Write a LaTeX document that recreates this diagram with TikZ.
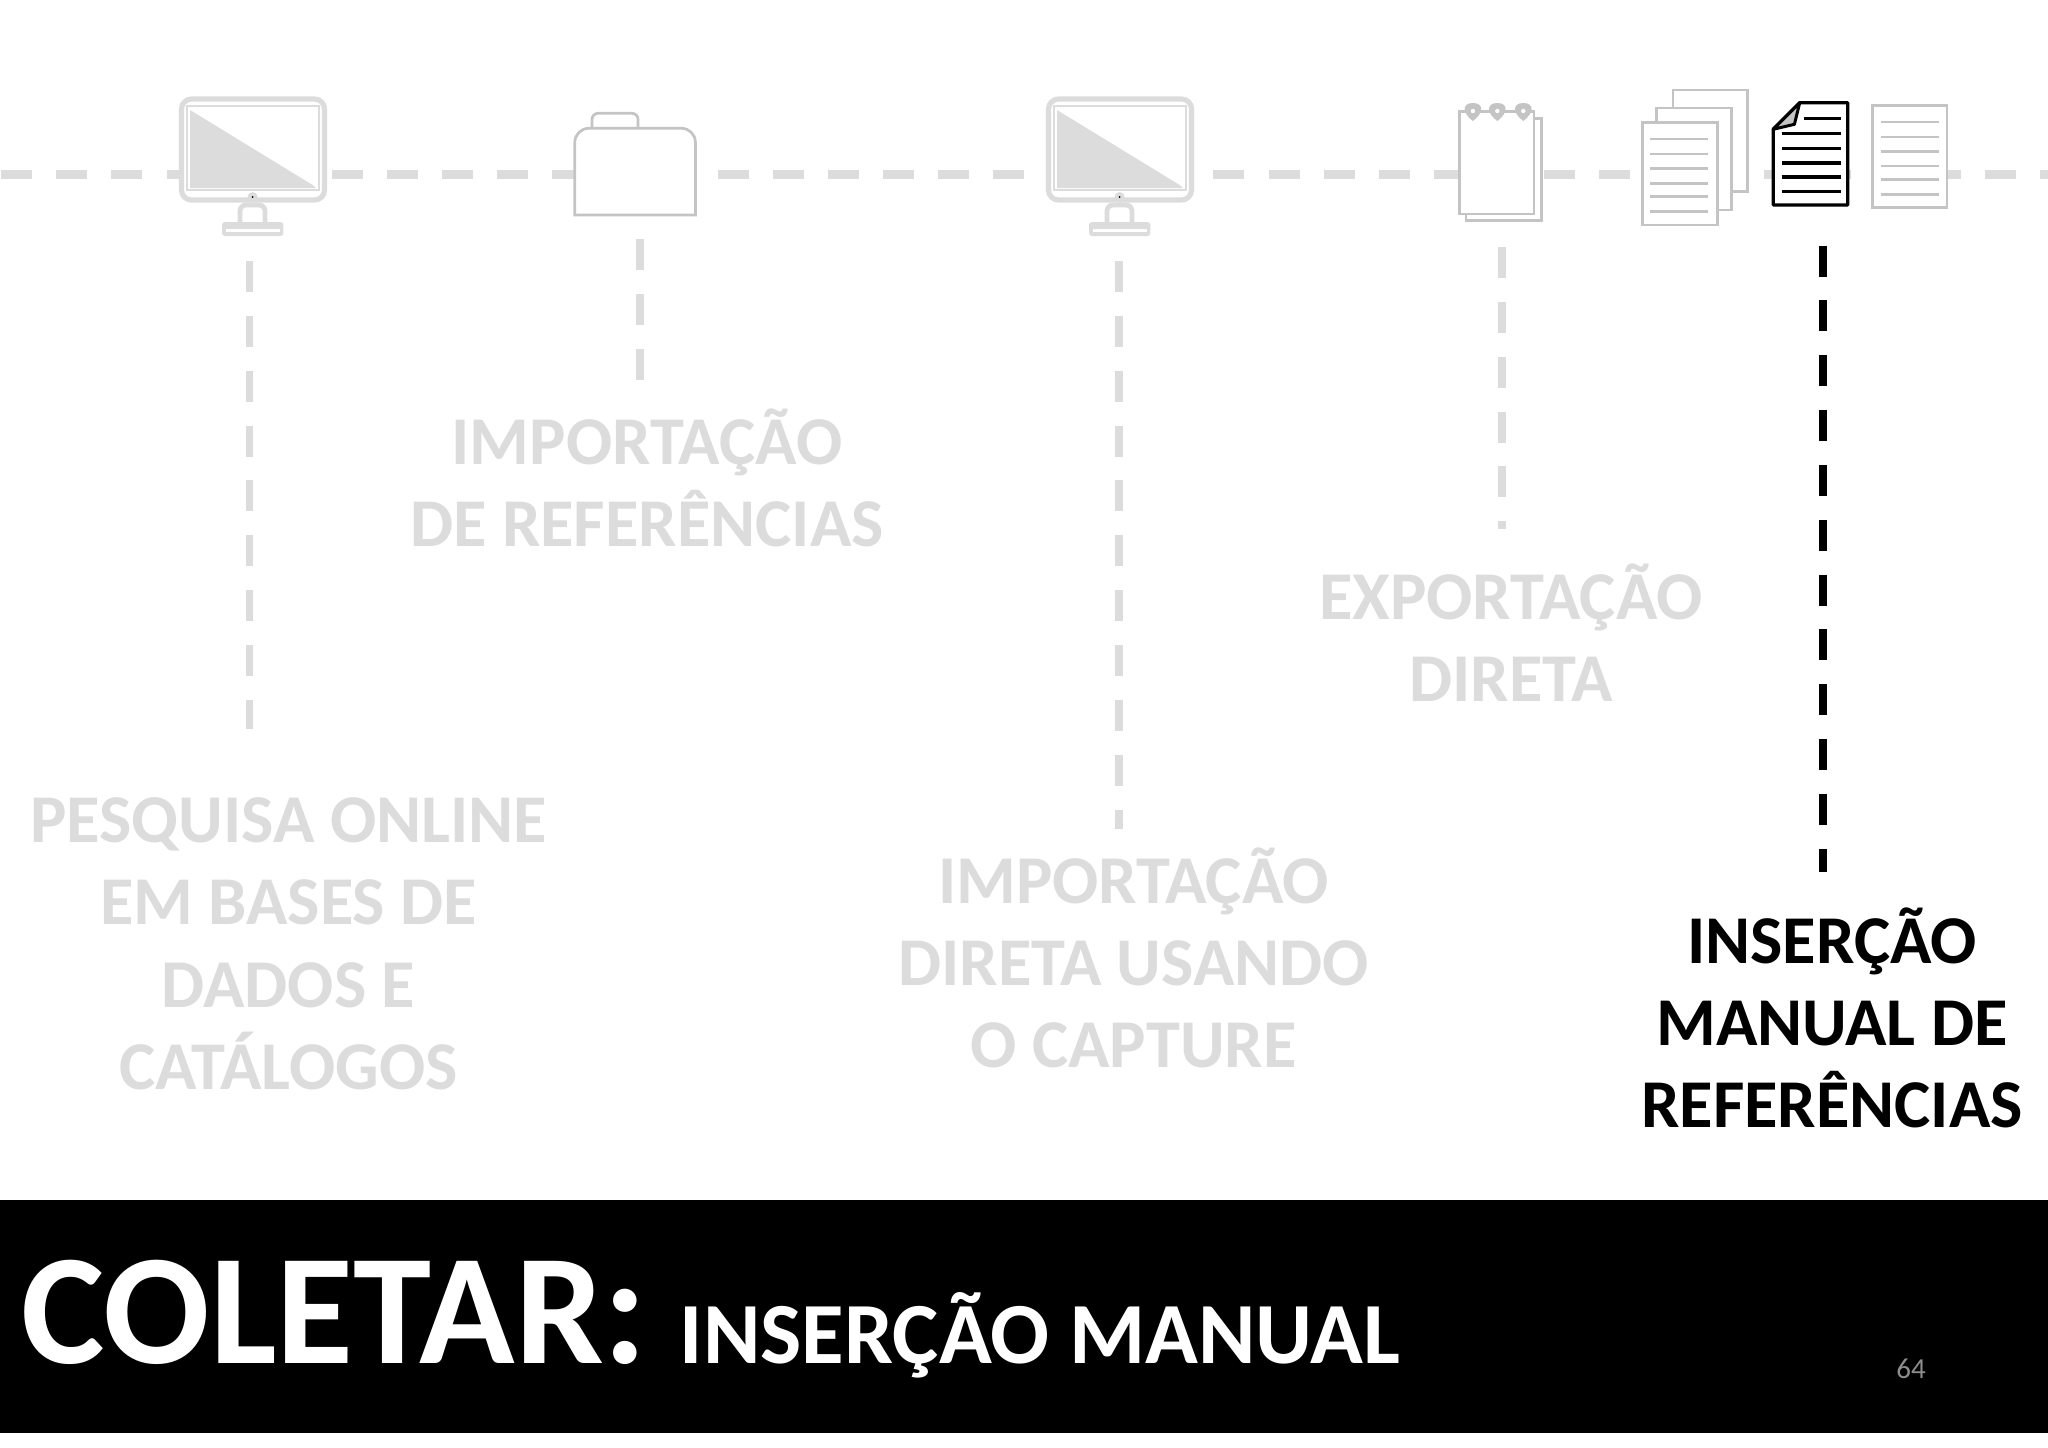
\documentclass[tikz,border=0pt]{standalone}
\usepackage{fontspec}
\setmainfont{Carlito}
\definecolor{dashgrey}{HTML}{DCDCDC}
\definecolor{icongrey}{HTML}{C4C4C4}
\definecolor{numgrey}{HTML}{8C8C8C}
\tikzset{
  x=0.5pt,y=-0.5pt,
  hdash/.style={line width=4.6pt,dash pattern=on 15.5pt off 12.05pt},
  vdash/.style={line width=3.8pt,dash pattern=on 15.5pt off 11.925pt},
  label/.style={inner sep=0pt,align=center,font=\bfseries\fontsize{34.2}{41.1}\selectfont},
  greyicon/.style={draw=icongrey,line width=1.35pt,fill=white,line join=miter},
  greyline/.style={draw=icongrey,line width=1.3pt},
  blackline/.style={draw=black,line width=1.8pt},
  monframe/.style={draw=dashgrey,line width=2.6pt,fill=white,rounded corners=5pt},
}
\newcommand{\monitoricon}[1]{%
  \begin{scope}[shift={(#1,0)}]
    \draw[monframe] (181.5,99) rectangle (324.5,200);
    \draw[draw=dashgrey,line width=1.3pt] (187,106) rectangle (319,190);
    \fill[dashgrey] (190,110) -- (312.6,185) -- (316,188) -- (190,188) -- cycle;
    \draw[monframe,line width=2.4pt,rounded corners=3pt] (240,224) -- (240,205) -- (265,205) -- (265,224);
    \fill[dashgrey,rounded corners=1.5pt] (222,222) rectangle (283.4,236);
    \fill[white] (226,228.5) rectangle (279.5,232);
    \fill[dashgrey] (252.6,197) circle[radius=5];
    \fill[black] (252.6,197) circle[radius=1];
  \end{scope}}
\newcommand{\doclines}[5]{%
  \foreach \yy in {#3} \draw[#5] (#1,\yy) -- (#2,\yy);}
\begin{document}
\begin{tikzpicture}
\useasboundingbox (0,0) rectangle (2048,1447);
\fill[white] (0,0) rectangle (2048,1447);
% main dashed axis
\coordinate (axisL) at (-53.9,174.5);
\coordinate (axisR) at (2100,174.5);
\draw[hdash,dashgrey] (axisL) -- (axisR);
% icons
\monitoricon{0}
\monitoricon{867}
% folder
\draw[greyicon,rounded corners=3pt] (592,128.3) -- (592,113.3) -- (638,113.3) -- (638,128.3);
\draw[greyicon] (574.8,215) [rounded corners=7pt] -- (574.8,128.3) -- (695.4,128.3) [sharp corners] -- (695.4,215) -- cycle;
% notepad
\draw[greyicon] (1466,118.3) rectangle (1541.3,220.7);
\draw[greyicon] (1459.2,111.3) rectangle (1534,214);
\foreach \xx in {1472.9,1497.3,1523.3}{
  \fill[icongrey] (\xx,121) .. controls (\xx-11,113) and (\xx-11,103) .. (\xx,103) .. controls (\xx+11,103) and (\xx+11,113) .. (\xx,121) -- cycle;
  \fill[white] (\xx,111) circle[radius=2.2];
}
% stack of pages
\draw[greyicon] (1673,90) rectangle (1747.6,191.7);
\draw[greyicon] (1656.3,108) rectangle (1731.6,210);
\draw[greyicon] (1642.3,122.7) rectangle (1717.2,225);
\doclines{1650.3}{1708.3}{139,154,168.3,183.3,196.7,211.3}{}{greyline}
% black page
\draw[fill=white,draw=black,line width=1.7pt,line join=round] (1799.7,102.7) -- (1847.7,102.7) -- (1847.7,205) -- (1773.2,205) -- (1773.2,129.3) -- cycle;
\draw[fill=icongrey,draw=black,line width=1.5pt,line join=round] (1799.7,102.7) -- (1773.2,129.3) -- (1794.4,124.3) -- cycle;
\draw[blackline] (1803.7,118.3) -- (1840.5,118.3);
\doclines{1781.6}{1840.5}{133.3,148.3,163,177,191.3}{}{blackline}
% right page
\draw[greyicon] (1872.5,105.7) rectangle (1947,207.7);
\doclines{1880.5}{1939}{122,137,151.7,166,179.7,194.3}{}{greyline}
% labels
\node[label,text=dashgrey] (l1) at (288.6,943.7) {PESQUISA ONLINE\\EM BASES DE\\DADOS E\\CATÁLOGOS};
\node[label,text=dashgrey] (l2) at (647,478) {IMPORTAÇÃO\\DE REFERÊNCIAS};
\node[label,text=dashgrey] (l3) at (1133.6,958) {IMPORTAÇÃO\\DIRETA USANDO\\O CAPTURE};
\node[label,text=dashgrey] (l4) at (1511,633) {EXPORTAÇÃO\\DIRETA};
\node[label,text=black] (l5) at (1832,1018) {INSERÇÃO\\MANUAL DE\\REFERÊNCIAS};
% connector ends
\coordinate (v1) at (249.5,261); \coordinate (v1e) at (249.5,729);
\coordinate (v2) at (640,239);   \coordinate (v2e) at (640,381);
\coordinate (v3) at (1119,261);  \coordinate (v3e) at (1119,829);
\coordinate (v4) at (1502,247);  \coordinate (v4e) at (1502,529);
\coordinate (v5) at (1823,245.5);\coordinate (v5e) at (1823,872);
\draw[vdash,dashgrey] (v1) -- (v1e);
\draw[vdash,dashgrey] (v2) -- (v2e);
\draw[vdash,dashgrey] (v3) -- (v3e);
\draw[vdash,dashgrey] (v4) -- (v4e);
\draw[vdash,black] (v5) -- (v5e);
% title bar
\fill[black] (0,1200) rectangle (2048,1432.5);
\node[inner sep=0pt,anchor=base west,text=white,font=\bfseries\fontsize{78.8}{90}\selectfont] (t1) at (21,1363) {COLETAR:};
\node[inner sep=0pt,anchor=base west,text=white,font=\bfseries\fontsize{43.6}{50}\selectfont] (t2) at (679.5,1363) {INSERÇÃO MANUAL};
\node[inner sep=0pt,text=numgrey,font=\fontsize{14.5}{16}\selectfont] (pg) at (1911,1369) {64};
\end{tikzpicture}
\end{document}
